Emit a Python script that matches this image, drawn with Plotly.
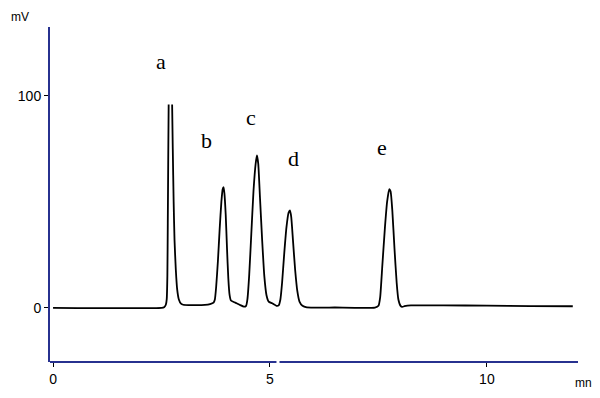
import plotly.graph_objects as go

# Chromatogram trace (time in min, signal in mV)
# Peak "a" is off-scale: the recorder trace is cut at the top (gap = None)
time_min = [0, 2.50, 2.56, 2.60, 2.62, 2.635, 2.645, 2.655, 2.665,
            None,
            2.745, 2.76, 2.78, 2.80, 2.83, 2.86, 2.90, 2.95, 3.00, 3.20, 3.50, 3.62,
            3.70, 3.73, 3.76, 3.80, 3.84, 3.88, 3.91, 3.93, 3.95, 3.98, 4.01, 4.04,
            4.07, 4.10, 4.20, 4.30, 4.40, 4.45, 4.48, 4.52, 4.57, 4.62, 4.67, 4.70,
            4.73, 4.77, 4.82, 4.87, 4.92, 4.97, 5.05, 5.15, 5.20, 5.24, 5.28, 5.33,
            5.38, 5.43, 5.46, 5.49, 5.53, 5.58, 5.63, 5.68, 5.75, 5.85, 6.50, 7.42,
            7.50, 7.54, 7.59, 7.65, 7.70, 7.75, 7.78, 7.82, 7.87, 7.92, 7.96, 8.01,
            8.05, 8.10, 8.25, 9.0, 10.0, 11.0, 11.98]
signal_mv = [0, 0, 0.3, 1.5, 4, 15, 40, 70, 96,
             None,
             96, 75, 50, 32, 18, 9, 4, 2, 1.5, 1.3, 1.4, 1.8,
             2.5, 4, 10, 22, 37, 50, 56, 57, 54, 44, 28, 14,
             6, 3.5, 2.5, 1.5, 0.6, 1, 4, 15, 35, 55, 68, 72,
             68, 52, 32, 15, 6, 3, 2.2, 1, 1.2, 4, 12, 26,
             38, 45, 46, 43, 32, 18, 8, 3, 1, 0.3, 0.2, 0.2,
             1, 5, 20, 38, 50, 56, 55, 46, 28, 12, 4, 1,
             0.5, 0.8, 1.2, 1.2, 1.1, 0.9, 0.8]

peak_labels = ["a", "b", "c", "d", "e"]
peak_label_x = [2.49, 3.53, 4.56, 5.55, 7.58]
peak_label_y = [116, 79, 89.6, 70.7, 75.9]

x_ticks = [0, 5, 10]
y_ticks = [0, 100]

axis_color = "#27318f"

fig = go.Figure()
fig.add_trace(go.Scatter(
    x=time_min, y=signal_mv, mode="lines",
    line=dict(color="black", width=1.8, shape="spline", smoothing=0.5),
    connectgaps=False, hoverinfo="skip", showlegend=False,
))

for lab, lx, ly in zip(peak_labels, peak_label_x, peak_label_y):
    fig.add_annotation(x=lx, y=ly, text=lab, showarrow=False,
                       font=dict(family="Liberation Serif", size=22, color="black"))

# unit labels (paper coords are relative to the plot area: x 50..578, y 27..362 px)
fig.add_annotation(x=(20 - 50) / 528, y=(362 - 17) / 335, xref="paper", yref="paper",
                   text="mV", showarrow=False, xanchor="center", yanchor="middle",
                   font=dict(family="Liberation Sans", size=12, color="black"))
fig.add_annotation(x=(583 - 50) / 528, y=(362 - 383) / 335, xref="paper", yref="paper",
                   text="mn", showarrow=False, xanchor="center", yanchor="middle",
                   font=dict(family="Liberation Sans", size=12, color="black"))

# x axis line with small break, as in the reference
fig.add_shape(type="line", xref="x", yref="paper", x0=-0.07, x1=5.15, y0=0, y1=0,
              line=dict(color=axis_color, width=2))
fig.add_shape(type="line", xref="x", yref="paper", x0=5.22, x1=12.1, y0=0, y1=0,
              line=dict(color=axis_color, width=2))

fig.update_layout(
    width=600, height=398,
    margin=dict(l=50, r=22, t=27, b=36),
    paper_bgcolor="white", plot_bgcolor="white",
    font=dict(family="Liberation Sans", size=14, color="black"),
    xaxis=dict(range=[-0.07, 12.1], tickvals=x_ticks, ticks="outside", ticklen=4,
               tickcolor="black", showgrid=False, zeroline=False, showline=False,
               tickfont=dict(size=14)),
    yaxis=dict(range=[-25.5, 132.5], tickvals=y_ticks, ticks="outside", ticklen=4,
               tickcolor="black", showgrid=False, zeroline=False, showline=True,
               linecolor=axis_color, linewidth=2, tickfont=dict(size=14)),
)

fig.write_html("out.html", config={"displayModeBar": False},
               post_script="document.body.style.margin='0';")
